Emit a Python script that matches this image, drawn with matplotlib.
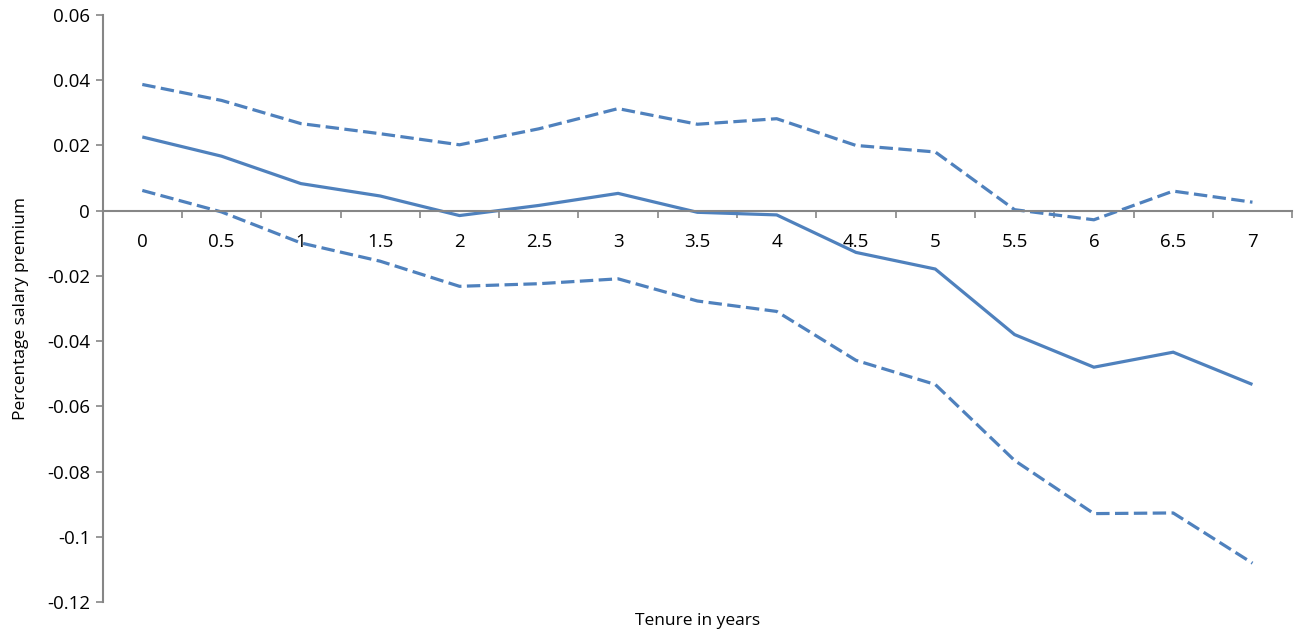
import numpy as np
from matplotlib import pyplot as plt
from matplotlib.ticker import FixedLocator, FuncFormatter

plt.rcParams['font.family'] = ['Open Sans', 'DejaVu Sans']
plt.rcParams['axes.unicode_minus'] = False

tenure = ['0', '0.5', '1', '1.5', '2', '2.5', '3', '3.5', '4', '4.5', '5', '5.5', '6', '6.5', '7']
premium = [0.0226, 0.0167, 0.0083, 0.0045, -0.0015, 0.0016, 0.0053, -0.0005, -0.0013,
           -0.0128, -0.0179, -0.0380, -0.0480, -0.0434, -0.0533]
upper = [0.0387, 0.0338, 0.0267, 0.0236, 0.0202, 0.0251, 0.0313, 0.0265, 0.0282,
         0.0200, 0.0180, 0.0003, -0.0028, 0.0060, 0.0026]
lower = [0.0062, -0.0004, -0.0099, -0.0155, -0.0232, -0.0224, -0.0209, -0.0277, -0.0309,
         -0.0459, -0.0533, -0.0766, -0.0929, -0.0927, -0.1081]

blue = '#4F81BD'
grey = '#868686'

fig = plt.figure(figsize=(12.96, 6.36), dpi=100)
ax = fig.add_axes([0.0792, 0.0535, 0.9178, 0.9229])

x = np.arange(len(tenure))
ax.plot(x, premium, color=blue, lw=2.3, solid_capstyle='butt', solid_joinstyle='miter')
ax.plot(x, upper, color=blue, lw=2.3, dashes=(4.2, 1.7))
ax.plot(x, lower, color=blue, lw=2.3, dashes=(4.2, 1.7))

ax.set_xlim(-0.5, len(tenure) - 0.5)
ax.set_ylim(-0.12, 0.06)
ax.set_yticks(np.arange(-0.12, 0.0601, 0.02))
ax.yaxis.set_major_formatter(FuncFormatter(lambda v, p: '%g' % round(v, 2)))

ax.spines['top'].set_visible(False)
ax.spines['right'].set_visible(False)
ax.spines['bottom'].set_position(('data', 0))
for s in ['left', 'bottom']:
    ax.spines[s].set_color(grey)
    ax.spines[s].set_linewidth(1.5)

ax.set_xticks(x)
ax.set_xticklabels(tenure)
ax.xaxis.set_minor_locator(FixedLocator(np.arange(-0.5, len(tenure), 1.0)))
ax.tick_params(axis='x', which='major', length=0, pad=16, labelsize=13.5)
ax.tick_params(axis='x', which='minor', length=5, width=1.2, color=grey, direction='out')
ax.tick_params(axis='y', length=5, width=1.2, color=grey, direction='out', labelsize=13.5, pad=4)

ax.set_xlabel('Tenure in years', fontsize=12.5)
ax.xaxis.set_label_coords(0.5, -0.018)
ax.set_ylabel('Percentage salary premium', fontsize=12.5)
ax.yaxis.set_label_coords(-0.062, 0.5)

fig.savefig('out.png', dpi=100)
